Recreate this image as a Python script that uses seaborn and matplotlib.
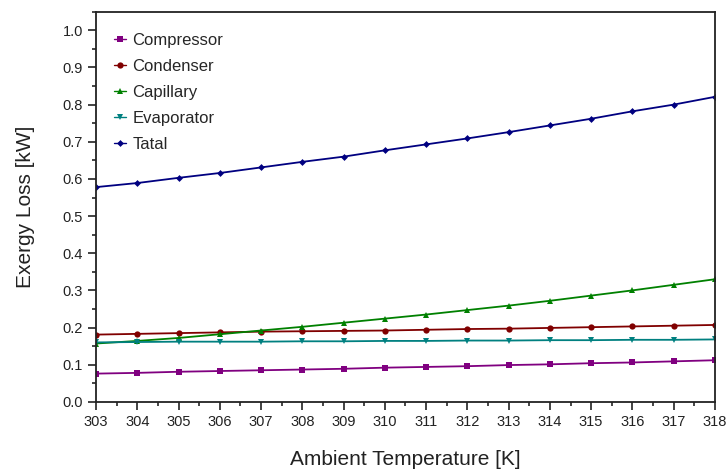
import numpy as np
import pandas as pd
import matplotlib
matplotlib.use("Agg")
import matplotlib.pyplot as plt
import seaborn as sns
from matplotlib.ticker import MultipleLocator

# values
temps = [303, 304, 305, 306, 307, 308, 309, 310, 311, 312, 313, 314, 315, 316, 317, 318]
compressor = [0.076, 0.078, 0.081, 0.083, 0.085, 0.087, 0.089, 0.092, 0.094, 0.096, 0.099, 0.101, 0.104, 0.106, 0.109, 0.112]
condenser = [0.181, 0.183, 0.185, 0.187, 0.189, 0.190, 0.191, 0.192, 0.194, 0.196, 0.197, 0.199, 0.201, 0.203, 0.205, 0.207]
capillary = [0.157, 0.164, 0.172, 0.182, 0.192, 0.202, 0.213, 0.224, 0.235, 0.247, 0.259, 0.272, 0.286, 0.300, 0.315, 0.330]
evaporator = [0.160, 0.161, 0.162, 0.162, 0.162, 0.163, 0.163, 0.164, 0.164, 0.165, 0.165, 0.166, 0.166, 0.167, 0.167, 0.168]
total = [0.578, 0.589, 0.603, 0.616, 0.631, 0.646, 0.660, 0.677, 0.693, 0.709, 0.726, 0.744, 0.762, 0.782, 0.800, 0.821]

series = [
    ("Compressor", compressor, "#800080", "s", 4),
    ("Condenser", condenser, "#800000", "o", 4.5),
    ("Capillary", capillary, "#008000", "^", 5),
    ("Evaporator", evaporator, "#008080", "v", 5),
    ("Tatal", total, "#000080", "D", 3.5),
]

sns.set_style("ticks")
plt.rcParams['font.family'] = ['Liberation Sans', 'DejaVu Sans']

fig = plt.figure(figsize=(7.28, 4.70), dpi=100)
ax = fig.add_axes([0.132, 0.145, 0.850, 0.830])

for name, vals, color, marker, ms in series:
    df = pd.DataFrame({"T": temps, "loss": vals})
    sns.lineplot(data=df, x="T", y="loss", ax=ax, color=color, marker=marker,
                 markersize=ms, markeredgewidth=0, linewidth=1.3, label=name)

ax.set_xlim(303, 318)
ax.set_ylim(0, 1.05)
ax.xaxis.set_major_locator(MultipleLocator(1))
ax.xaxis.set_minor_locator(MultipleLocator(0.5))
ax.yaxis.set_minor_locator(MultipleLocator(0.05))
ax.set_yticks(np.arange(0, 1.01, 0.1))
ax.set_yticklabels([f"{v:.1f}" for v in np.arange(0, 1.01, 0.1)])
ax.tick_params(axis='both', which='major', direction='out', length=6, width=1.2, labelsize=10.5, colors='#222222')
ax.tick_params(axis='both', which='minor', direction='out', length=3, width=1.2)
for s in ax.spines.values():
    s.set_linewidth(1.3)
    s.set_color('#222222')

ax.set_xlabel("Ambient Temperature [K]", fontsize=15, color='#222222', labelpad=15)
ax.set_ylabel("Exergy Loss [kW]", fontsize=15, color='#222222', labelpad=20)

leg = ax.legend(loc='upper left', frameon=False, fontsize=12, handlelength=0.7,
                handletextpad=0.4, labelspacing=0.66, bbox_to_anchor=(0.005, 0.985))
for line in leg.get_lines():
    line.set_linewidth(1.0)

fig.savefig("out.png", dpi=100)
